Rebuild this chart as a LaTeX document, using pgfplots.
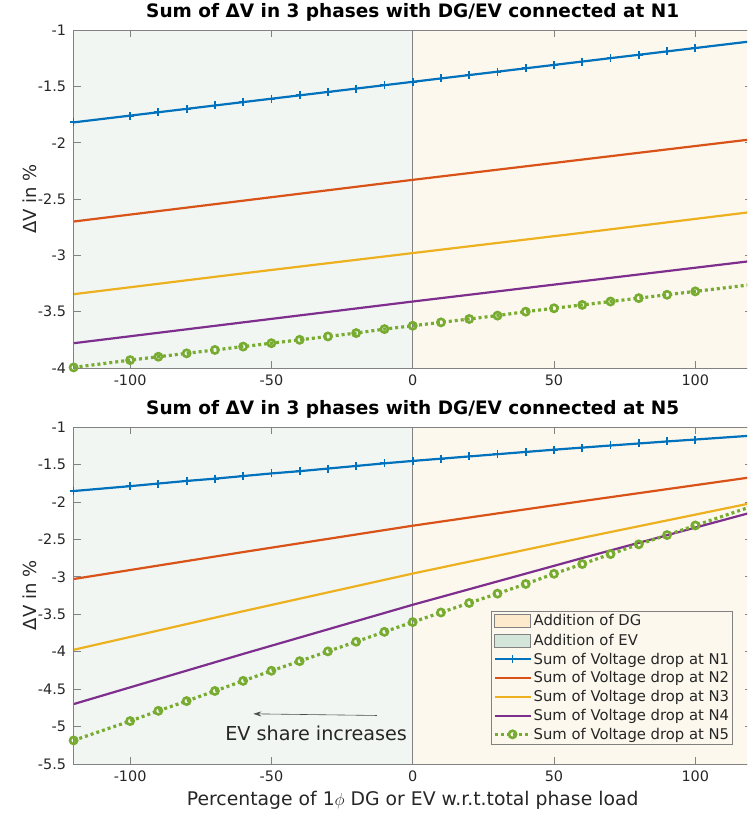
\documentclass[border=0pt]{standalone}
\usepackage{fontspec}
\setmainfont{DejaVu Sans}
\usepackage{pgfplots}
\pgfplotsset{compat=1.18}
\usetikzlibrary{arrows.meta}
\definecolor{c1}{rgb}{0,0.447,0.741}
\definecolor{c2}{rgb}{0.85,0.325,0.098}
\definecolor{c3}{rgb}{0.929,0.694,0.125}
\definecolor{c4}{rgb}{0.494,0.184,0.556}
\definecolor{c5}{rgb}{0.466,0.674,0.188}
\definecolor{evbg}{RGB}{242,246,243}
\definecolor{dgbg}{RGB}{252,248,238}
\definecolor{evleg}{RGB}{212,230,217}
\definecolor{dgleg}{RGB}{253,234,205}
\definecolor{axgray}{RGB}{130,130,130}
\definecolor{txt}{RGB}{38,38,38}
\pgfplotsset{
  myax/.style={
    scale only axis, width=678.2pt,
    xmin=-120, xmax=120, xtick={-100,-50,0,50,100},
    axis on top,
    tick align=inside,
    axis line style={axgray, line width=0.6pt},
    tick style={axgray, line width=0.6pt},
    major tick length=7pt,
    ticklabel style={font=\fontsize{14.4}{16}\selectfont, text=txt},
    yticklabel style={xshift=-4pt},
    xticklabel style={yshift=-3pt},
    /pgf/number format/assume math mode=true,
    title style={font=\bfseries\fontsize{18.5}{20}\selectfont, yshift=-1pt},
    ylabel style={font=\fontsize{18}{20}\selectfont, text=txt, at={(axis description cs:-0.0643,0.5)}, anchor=center, rotate=0},
    xlabel style={font=\fontsize{18.8}{20}\selectfont, text=txt},
    legend image code/.code={\draw[mark repeat=2,mark phase=2,#1] plot coordinates {(0pt,0pt) (18pt,0pt) (36pt,0pt)};},
  },
  l1/.style={c1, line width=2.2pt, mark=+, mark size=4pt, mark options={solid, line width=1.8pt}},
  l2/.style={c2, line width=2.2pt},
  l3/.style={c3, line width=2.2pt},
  l4/.style={c4, line width=2.2pt},
  l5/.style={c5, line width=3.2pt, dash pattern=on 3pt off 3pt, mark=o, mark size=3.6pt, mark options={solid, line width=2.6pt}},
}
\begin{document}
\begin{tikzpicture}
\path[use as bounding box] (-73.6pt,-445pt) rectangle (673.4pt,368pt);
\clip (-73.6pt,-445pt) rectangle (673.4pt,368pt);
% ---------------- top axis ----------------
\begin{axis}[myax, height=338pt, at={(0pt,0pt)}, anchor=south west,
  ymin=-4, ymax=-1, ytick={-4,-3.5,-3,-2.5,-2,-1.5,-1},
  title={Sum of ΔV in 3 phases with DG/EV connected at N1},
  ylabel={ΔV in \%}]
\addplot[fill=dgbg, draw=none, forget plot] coordinates {(0,-4) (0,-1) (120,-1) (120,-4)};
\addplot[fill=evbg, draw=none, forget plot] coordinates {(-120,-4) (-120,-1) (0,-1) (0,-4)};
\addplot[axgray, line width=0.8pt, forget plot] coordinates {(0,-4) (0,-1)};
\addplot[l1] coordinates {(-120,-1.82) (-100,-1.76) (-90,-1.73) (-80,-1.70) (-70,-1.67) (-60,-1.64) (-50,-1.61) (-40,-1.58) (-30,-1.55) (-20,-1.52) (-10,-1.49) (0,-1.46) (10,-1.43) (20,-1.40) (30,-1.37) (40,-1.34) (50,-1.31) (60,-1.28) (70,-1.25) (80,-1.22) (90,-1.19) (100,-1.16) (120,-1.10)};
\addplot[l2] coordinates {(-120,-2.70) (-60,-2.515) (0,-2.33) (60,-2.15) (120,-1.97)};
\addplot[l3] coordinates {(-120,-3.345) (-60,-3.16) (0,-2.98) (60,-2.80) (120,-2.615)};
\addplot[l4] coordinates {(-120,-3.78) (-60,-3.595) (0,-3.41) (60,-3.23) (120,-3.05)};
\addplot[l5] coordinates {(-120,-3.995) (-100,-3.93) (-90,-3.90) (-80,-3.87) (-70,-3.84) (-60,-3.81) (-50,-3.78) (-40,-3.75) (-30,-3.72) (-20,-3.69) (-10,-3.655) (0,-3.625) (10,-3.595) (20,-3.565) (30,-3.535) (40,-3.50) (50,-3.47) (60,-3.44) (70,-3.41) (80,-3.38) (90,-3.35) (100,-3.32) (120,-3.26)};
\end{axis}
% ---------------- bottom axis ----------------
\begin{axis}[myax, height=337pt, at={(0pt,-396pt)}, anchor=south west,
  ymin=-5.5, ymax=-1, ytick={-5.5,-5,-4.5,-4,-3.5,-3,-2.5,-2,-1.5,-1},
  title={Sum of ΔV in 3 phases with DG/EV connected at N5},
  ylabel={ΔV in \%},
  xlabel={Percentage of 1$\phi$ DG or EV w.r.t.total phase load},
  xlabel style={at={(axis description cs:0.5,-0.107)}, anchor=center},
  legend cell align=left,
  legend style={at={(0.972,0.454)}, anchor=north east, draw=axgray, fill=dgbg,
    font=\fontsize{14.8}{16}\selectfont, text=txt, row sep=6pt, inner xsep=2pt, inner ysep=3pt,
    nodes={inner xsep=1.5pt, inner ysep=0pt}},
]
\addplot[fill=dgbg, draw=none, legend image code/.code={\draw[fill=dgleg, draw=axgray] (0pt,-6.5pt) rectangle (36pt,6.5pt);}] coordinates {(0,-5.5) (0,-1) (120,-1) (120,-5.5)};
\addlegendentry{Addition of DG}
\addplot[fill=evbg, draw=none, legend image code/.code={\draw[fill=evleg, draw=axgray] (0pt,-6.5pt) rectangle (36pt,6.5pt);}] coordinates {(-120,-5.5) (-120,-1) (0,-1) (0,-5.5)};
\addlegendentry{Addition of EV}
\addplot[axgray, line width=0.8pt, forget plot] coordinates {(0,-5.5) (0,-1)};
\addplot[l1] coordinates {(-120,-1.855) (-100,-1.79) (-90,-1.755) (-80,-1.72) (-70,-1.69) (-60,-1.655) (-50,-1.62) (-40,-1.59) (-30,-1.555) (-20,-1.52) (-10,-1.485) (0,-1.453) (10,-1.423) (20,-1.393) (30,-1.363) (40,-1.333) (50,-1.303) (60,-1.275) (70,-1.247) (80,-1.22) (90,-1.193) (100,-1.167) (120,-1.115)};
\addlegendentry{Sum of Voltage drop at N1}
\addplot[l2] coordinates {(-120,-3.03) (-60,-2.67) (0,-2.318) (60,-1.99) (120,-1.67)};
\addlegendentry{Sum of Voltage drop at N2}
\addplot[l3] coordinates {(-120,-3.975) (-60,-3.46) (0,-2.957) (60,-2.48) (120,-2.015)};
\addlegendentry{Sum of Voltage drop at N3}
\addplot[l4] coordinates {(-120,-4.70) (-60,-4.03) (0,-3.374) (60,-2.75) (120,-2.14)};
\addlegendentry{Sum of Voltage drop at N4}
\addplot[l5] coordinates {(-120,-5.185) (-100,-4.927) (-90,-4.79) (-80,-4.66) (-70,-4.525) (-60,-4.39) (-50,-4.255) (-40,-4.127) (-30,-3.996) (-20,-3.867) (-10,-3.735) (0,-3.605) (10,-3.477) (20,-3.35) (30,-3.225) (40,-3.096) (50,-2.96) (60,-2.83) (70,-2.697) (80,-2.567) (90,-2.443) (100,-2.315) (120,-2.06)};
\addlegendentry{Sum of Voltage drop at N5}
\draw[-{Stealth[length=8pt,width=5pt]}, black!70, line width=0.6pt] (axis cs:-12.7,-4.852) -- (axis cs:-56.4,-4.83);
\node[anchor=east, font=\fontsize{19.2}{21}\selectfont, text=txt] at (axis cs:-0.8,-5.09) {EV share increases};
\end{axis}
\end{tikzpicture}
\end{document}
